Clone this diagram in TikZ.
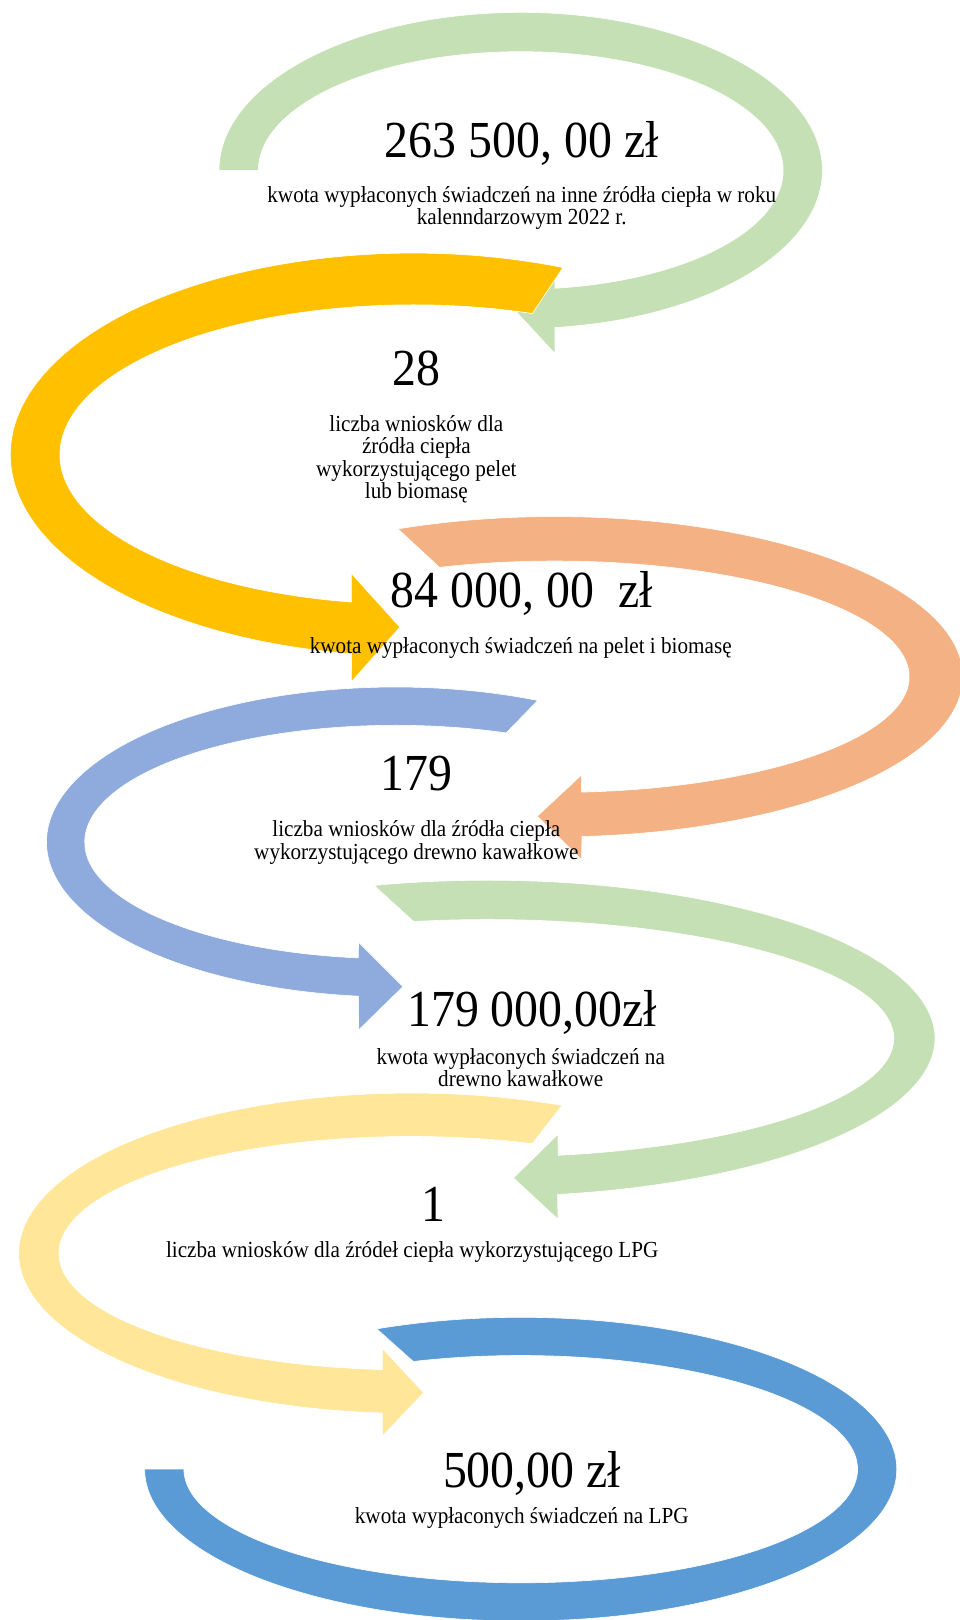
\documentclass[tikz,border=0pt]{standalone}
\usepackage{fontspec}
\setmainfont{Liberation Serif}[FakeStretch=0.92]
\usetikzlibrary{calc}
\definecolor{colorGRN}{HTML}{C5E0B4}
\definecolor{colorYLW}{HTML}{FFC000}
\definecolor{colorORG}{HTML}{F4B183}
\definecolor{colorBGR}{HTML}{8FAADC}
\definecolor{colorLYL}{HTML}{FFE699}
\definecolor{colorBLU}{HTML}{5B9BD5}
\tikzset{
   band/.style={draw=white,line width=0.6pt},
   amt/.style={font=\fontsize{52}{52}\selectfont,inner sep=0pt,anchor=base},
   dsc/.style={font=\fontsize{23}{22.5}\selectfont,align=center,inner sep=0pt},
}

\begin{document}
\begin{tikzpicture}[x=1.0334pt,y=-1.0334pt]
      \useasboundingbox (0,0) rectangle (929,1568);
      \coordinate (c1) at (504,165);
      \coordinate (c2) at (400,440);
      \coordinate (c3) at (537,655);
      \coordinate (c4) at (383,815);
      \coordinate (c5) at (472,1005);
      \coordinate (c6) at (398,1213);
      \coordinate (c7) at (504,1422);
      % arrows, drawn in order so the next tail lies over the head before it
      \fill[band,fill=colorGRN] ($(c1)+(180:292 and 153)$) arc[start angle=180,end angle=443.5,x radius=292,y radius=153]
         -- (537,342) -- (500,302) -- (537,261)
         -- ($(c1)+(442.5:254 and 115)$) arc[start angle=442.5,end angle=180,x radius=254,y radius=115] -- cycle;
      \fill[band,fill=colorYLW] ($(c2)+(-68.2:390 and 195)$) arc[start angle=-68.2,end angle=-261.2,x radius=390,y radius=195]
         -- (340,660) -- (387,607) -- (340,555)
         -- ($(c2)+(-259.9:342 and 145)$) arc[start angle=-259.9,end angle=-70.3,x radius=342,y radius=145] -- cycle;
      \fill[band,fill=colorORG] ($(c3)+(-112.6:395 and 155)$) arc[start angle=-112.6,end angle=86.2,x radius=395,y radius=155]
         -- (563,832) -- (520,790) -- (563,750)
         -- ($(c3)+(85.7:343 and 112)$) arc[start angle=85.7,end angle=-109,x radius=343,y radius=112] -- cycle;
      \fill[band,fill=colorBGR] ($(c4)+(-66:338 and 150)$) arc[start angle=-66,end angle=-263.9,x radius=338,y radius=150]
         -- (347,997) -- (390,955) -- (347,912)
         -- ($(c4)+(-263.1:301 and 113)$) arc[start angle=-263.1,end angle=-69.2,x radius=301,y radius=113] -- cycle;
      \fill[band,fill=colorGRN] ($(c5)+(-104.7:433 and 153)$) arc[start angle=-104.7,end angle=81,x radius=433,y radius=153]
         -- (540,1180) -- (497,1140) -- (540,1098)
         -- ($(c5)+(80:393 and 115)$) arc[start angle=80,end angle=-100.5,x radius=393,y radius=115] -- cycle;
      \fill[band,fill=colorLYL] ($(c6)+(-67.4:380 and 155)$) arc[start angle=-67.4,end angle=-265.8,x radius=380,y radius=155]
         -- (370,1390) -- (410,1348) -- (370,1305)
         -- ($(c6)+(-265.3:341 and 113)$) arc[start angle=-265.3,end angle=-69.9,x radius=341,y radius=113] -- cycle;
      \fill[band,fill=colorBLU] ($(c7)+(180:364 and 147)$) arc[start angle=180,end angle=-112.5,x radius=364,y radius=147]
         -- ($(c7)+(-108.6:326 and 110)$) arc[start angle=-108.6,end angle=180,x radius=326,y radius=110] -- cycle;
      % texts
      \node[amt] (amt1) at (505,152) {263 500, 00 zł};
      \node[dsc] (dsc1) at (505,201.5) {kwota wypłaconych świadczeń na inne źródła ciepła w roku\\kalenndarzowym 2022 r.};
      \node[amt] (num2) at (403,373) {28};
      \node[dsc] (dsc2) at (403,444.5) {liczba wniosków dla\\źródła ciepła\\wykorzystującego pelet\\lub biomasę};
      \node[amt] (amt3) at (505,588) {84 000, 00\ \ zł};
      \node[dsc] (dsc3) at (504,627.5) {kwota wypłaconych świadczeń na pelet i biomasę};
      \node[amt] (num4) at (403,765) {179};
      \node[dsc] (dsc4) at (403,815.5) {liczba wniosków dla źródła ciepła\\wykorzystującego drewno kawałkowe};
      \node[amt] (amt5) at (515,994) {179 000,00zł};
      \node[dsc] (dsc5) at (504,1033.5) {kwota wypłaconych świadczeń na\\drewno kawałkowe};
      \node[amt] (num6) at (420,1182) {1};
      \node[dsc] (dsc6) at (399,1212) {liczba wniosków dla źródeł ciepła wykorzystującego LPG};
      \node[amt] (amt7) at (515,1440) {500,00 zł};
      \node[dsc] (dsc7) at (505,1469) {kwota wypłaconych świadczeń na LPG};
\end{tikzpicture}
\end{document}
